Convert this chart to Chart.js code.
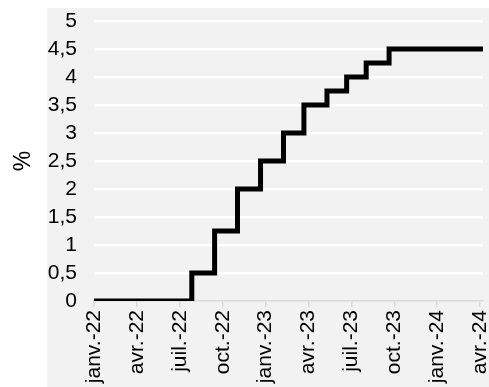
<!DOCTYPE html>
<html>
<head>
<meta charset="utf-8">
<script src="https://cdn.jsdelivr.net/npm/chart.js@4"></script>
<style>
    body { margin: 0; background: #fff; overflow: hidden; }
</style>
</head>
<body>
<canvas id="rate-chart" width="489" height="387"></canvas>
<script>
// policy rate changes (date of change, new level in %)
let changeDates = ['2022-01-01', '2022-07-27', '2022-09-14', '2022-11-02', '2022-12-21', '2023-02-08',
    '2023-03-22', '2023-05-10', '2023-06-21', '2023-08-02', '2023-09-20', '2024-04-07'];
let rateValues = [0, 0.5, 1.25, 2, 2.5, 3, 3.5, 3.75, 4, 4.25, 4.5, 4.5];

// x tick labels, one per quarter from janv. 2022
let tickLabels = ['janv.-22', 'avr.-22', 'juil.-22', 'oct.-22', 'janv.-23', 'avr.-23',
    'juil.-23', 'oct.-23', 'janv.-24', 'avr.-24'];
let startYear = 2022;

// months since jan 2022, fractional
function monthOffset(dateStr) {
    const d = new Date(dateStr + 'T00:00:00');
    const daysInMonth = new Date(d.getFullYear(), d.getMonth() + 1, 0).getDate();
    return (d.getFullYear() - startYear) * 12 + d.getMonth() + (d.getDate() - 1) / daysInMonth;
}

const points = changeDates.map((d, i) => ({x: monthOffset(d), y: rateValues[i]}));

const backgroundPlugin = {
    id: 'grayBackground',
    beforeDraw(chart) {
        const ctx = chart.ctx;
        ctx.save();
        ctx.fillStyle = '#f2f2f2';
        ctx.fillRect(47, 8, chart.width - 47, chart.height - 8);
        ctx.restore();
    }
};

Chart.defaults.font.family = '"Liberation Sans", Arial, sans-serif';
const tickFont = {size: 21};

new Chart(document.getElementById('rate-chart'), {
    type: 'line',
    data: {
        datasets: [{
            data: points,
            stepped: true,
            borderColor: '#000',
            borderWidth: 5,
            pointRadius: 0,
            fill: false
        }]
    },
    options: {
        responsive: false,
        animation: false,
        layout: {padding: {top: 21, right: 6, left: 0, bottom: 0}},
        plugins: {
            legend: {display: false},
            tooltip: {enabled: false}
        },
        scales: {
            x: {
                type: 'linear',
                min: 0,
                max: points[points.length - 1].x,
                afterBuildTicks: (scale) => {
                    scale.ticks = tickLabels.map((l, i) => ({value: i * 3}));
                },
                afterFit: (scale) => {
                    scale.height = 86;
                    scale.paddingLeft = 0;
                    scale.paddingRight = 0;
                },
                ticks: {
                    autoSkip: false,
                    minRotation: 90,
                    maxRotation: 90,
                    padding: 3,
                    color: '#000',
                    font: tickFont,
                    callback: (value) => tickLabels[Math.round(value / 3)]
                },
                grid: {
                    drawOnChartArea: false,
                    tickLength: 6,
                    color: '#d9d9d9',
                    lineWidth: 1.5
                },
                border: {color: '#d9d9d9', width: 1.5}
            },
            y: {
                min: 0,
                max: 5,
                afterFit: (scale) => {
                    scale.width = 94;
                    scale.paddingTop = 0;
                    scale.paddingBottom = 0;
                },
                ticks: {
                    stepSize: 0.5,
                    autoSkip: false,
                    padding: 17,
                    color: '#000',
                    font: tickFont,
                    callback: (value) => String(value).replace('.', ',')
                },
                grid: {
                    drawTicks: false,
                    color: (ctx) => ctx.tick && ctx.tick.value === 0 ? 'rgba(0,0,0,0)' : '#ffffff',
                    lineWidth: 2.5
                },
                border: {display: false},
                title: {
                    display: true,
                    text: '%',
                    color: '#000',
                    font: {size: 23},
                    padding: {top: 10, bottom: 0}
                }
            }
        }
    },
    plugins: [backgroundPlugin]
});
</script>
</body>
</html>
